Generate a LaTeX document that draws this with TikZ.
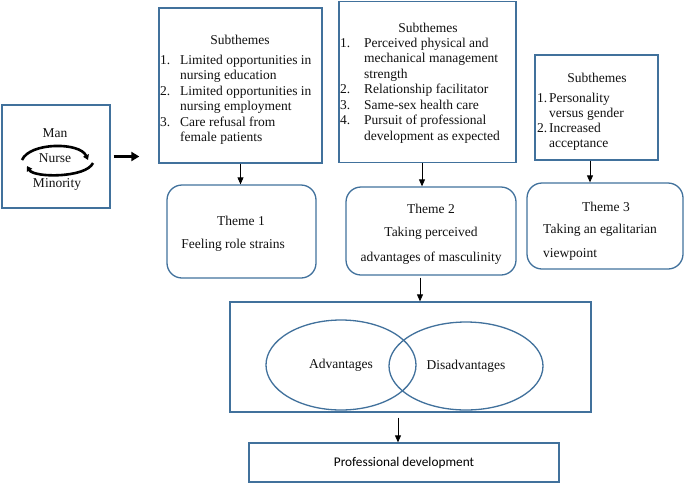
\documentclass[tikz,border=0pt]{standalone}
\usepackage{fontspec}
\setmainfont{Liberation Serif}
\newfontfamily\calibri{Carlito}
\usepackage{xcolor}
\usepackage{tikz}
\usetikzlibrary{arrows.meta,shapes.geometric}
\definecolor{frame}{HTML}{41719C}
\definecolor{ink}{HTML}{111111}
\tikzset{
  sqbox/.style={draw=frame, line width=1.3pt, fill=white},
  rbox/.style={draw=frame, line width=1.3pt, rounded corners=15pt},
  venn/.style={ellipse, draw=frame, line width=1.3pt},
  lab/.style={text=ink, font=\fontsize{13.5}{15.5}\selectfont, inner sep=0pt},
  listtext/.style={lab, anchor=base west},
  arr/.style={-{Triangle[width=6pt,length=7pt]}, line width=0.8pt},
  bigarr/.style={-{Triangle[width=9pt,length=8pt]}, line width=2.4pt},
  cycarr/.style={-{Triangle[width=6pt,length=5pt]}, line width=2.6pt}
}

\begin{document}
\begin{tikzpicture}[x=1pt,y=-1pt]
  \useasboundingbox (0,0) rectangle (685,483);

  % Man / Nurse / Minority
  \node[sqbox, minimum width=108, minimum height=103] (roles) at (56,156.5) {};
  \node[lab] (man) at (55,133) {Man};
  \node[lab] (nurse) at (55,158) {Nurse};
  \node[lab] (minority) at (57,184) {Minority};
  \draw[cycarr] (22,160) .. controls (30,142) and (80,142) .. (88,160);
  \draw[cycarr] (93,163) .. controls (86,178) and (34,178) .. (27,166);

  % Subthemes boxes
  \node[sqbox, minimum width=163, minimum height=155] (sub1) at (240.5,85.5) {};
  \node[lab] (head1) at (240,40) {Subthemes};
  \node[listtext] (list1) at (160,64) {\begin{tabular}[t]{@{}p{20pt}@{}l@{}}
    1. & Limited opportunities in\\
       & nursing education\\
    2. & Limited opportunities in\\
       & nursing employment\\
    3. & Care refusal from\\
       & female patients
  \end{tabular}};

  \node[sqbox, minimum width=177, minimum height=161] (sub2) at (427.5,82) {};
  \node[lab] (head2) at (428,28) {Subthemes};
  \node[listtext] (list2) at (340,47) {\begin{tabular}[t]{@{}p{24pt}@{}l@{}}
    1. & Perceived physical and\\
       & mechanical management\\
       & strength\\
    2. & Relationship facilitator\\
    3. & Same-sex health care\\
    4. & Pursuit of professional\\
       & development as expected
  \end{tabular}};

  \node[sqbox, minimum width=123, minimum height=105] (sub3) at (596.5,107.5) {};
  \node[lab] (head3) at (597,78) {Subthemes};
  \node[listtext, font=\fontsize{13.5}{15}\selectfont] (list3) at (537,102) {\begin{tabular}[t]{@{}p{12pt}@{}l@{}}
    1. & Personality\\
       & versus gender\\
    2. & Increased\\
       & acceptance
  \end{tabular}};

  % Themes
  \node[rbox, minimum width=149, minimum height=93] (theme1) at (241.5,231.5) {};
  \node[lab] (t1head) at (241,221) {Theme 1};
  \node[lab] (t1text) at (233,245) {Feeling role strains};

  \node[rbox, minimum width=170, minimum height=88] (theme2) at (431,231) {};
  \node[lab] (t2head) at (431,209) {Theme 2};
  \node[lab] (t2text) at (431,233) {Taking perceived};
  \node[lab] (t2more) at (431,258) {advantages of masculinity};

  \node[rbox, minimum width=156, minimum height=86] (theme3) at (605,226) {};
  \node[lab] (t3head) at (606,207) {Theme 3};
  \node[lab, anchor=west] (t3text) at (543,230) {Taking an egalitarian};
  \node[lab, anchor=west] (t3more) at (543,254) {viewpoint};

  % Advantages and disadvantages
  \node[sqbox, minimum width=361, minimum height=110] (vennbox) at (410.5,357) {};
  \node[venn, lab, minimum width=150, minimum height=90] (adv) at (341,365) {Advantages};
  \node[venn, lab, minimum width=154, minimum height=88] (disadv) at (466,366) {Disadvantages};

  \node[sqbox, font=\calibri\fontsize{13.3}{15}\selectfont, minimum width=310, minimum height=39] (prof) at (404,462.5) {Professional development};

  % Arrows
  \draw[bigarr, shorten <=3pt, shorten >=19pt] (roles.east) -- (roles.east -| sub1.west);
  \draw[arr] (sub1.south) -- (sub1.south |- theme1.north);
  \draw[arr] ([xshift=-5.5pt]sub2.south) -- ([xshift=-5.5pt]sub2.south |- theme2.north);
  \draw[arr] ([xshift=-6.5pt]sub3.south) -- ([xshift=-6.5pt]sub3.south |- theme3.north);
  \draw[arr, shorten <=2pt] ([xshift=-11pt]theme2.south) -- ([xshift=-11pt]theme2.south |- vennbox.north);
  \draw[arr, shorten <=5pt] ([xshift=-12.5pt]vennbox.south) -- ([xshift=-12.5pt]vennbox.south |- prof.north);
\end{tikzpicture}
\end{document}
